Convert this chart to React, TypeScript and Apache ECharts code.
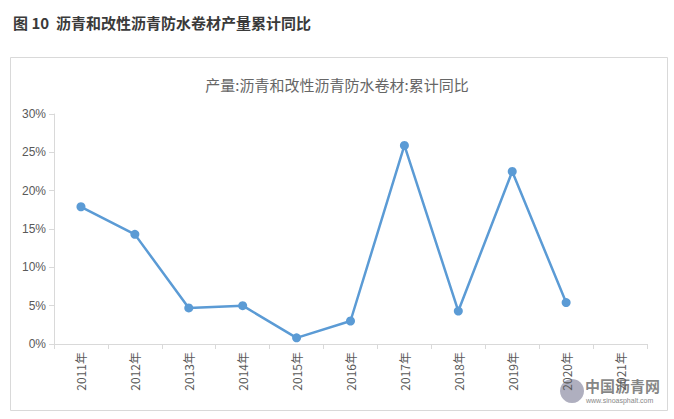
import React, { useEffect, useRef } from "react";
import * as echarts from "echarts";

const categories = ["2011年", "2012年", "2013年", "2014年", "2015年", "2016年", "2017年", "2018年", "2019年", "2020年", "2021年"];
const values: (number | null)[] = [17.9, 14.3, 4.7, 5.0, 0.8, 3.0, 25.9, 4.3, 22.5, 5.4, null];
const yTicks = [0, 5, 10, 15, 20, 25, 30];

export default function App() {
  const ref = useRef<HTMLDivElement>(null);
  useEffect(() => {
    const chart = echarts.init(ref.current!, null, { renderer: "svg" });
    chart.setOption({
      animation: false,
      backgroundColor: "#ffffff",
      title: [
        {
          text: "图 10  沥青和改性沥青防水卷材产量累计同比",
          left: 8,
          top: 10,
          textStyle: { fontSize: 15, fontWeight: "bold", color: "#3a3a3a", fontFamily: "Noto Sans CJK SC" },
        },
        {
          text: "产量:沥青和改性沥青防水卷材:累计同比",
          left: "center",
          top: 72,
          textStyle: { fontSize: 15, fontWeight: "normal", color: "#666666", fontFamily: "Noto Sans CJK SC" },
        },
      ],
      graphic: [
        {
          type: "rect",
          shape: { x: 10.5, y: 57.5, width: 657, height: 353 },
          style: { fill: "none", stroke: "#d9d9d9", lineWidth: 1 },
          z: -1,
        },
        {
          type: "circle",
          shape: { cx: 572, cy: 391, r: 12 },
          style: { fill: "#7a7a95", opacity: 0.6 },
        },
        {
          type: "text",
          x: 585,
          y: 378,
          style: { text: "中国沥青网", fontSize: 15, fontWeight: "bold", fill: "#707070", opacity: 0.85, fontFamily: "Noto Sans CJK SC" },
        },
        {
          type: "text",
          x: 586,
          y: 397,
          style: { text: "www.sinoasphalt.com", fontSize: 7, fill: "#888888", fontFamily: "Liberation Sans" },
        },
      ],
      grid: { left: 54, right: 27, top: 114, bottom: 75, containLabel: false },
      xAxis: {
        type: "category",
        data: categories,
        boundaryGap: true,
        axisLine: { lineStyle: { color: "#d9d9d9", width: 1 } },
        axisTick: { show: true, alignWithLabel: false, length: 5, lineStyle: { color: "#d9d9d9" } },
        axisLabel: {
          rotate: 90,
          interval: 0,
          color: "#595959",
          fontSize: 12,
          margin: 8,
          fontFamily: "Noto Sans CJK SC",
        },
      },
      yAxis: {
        type: "value",
        min: 0,
        max: 30,
        interval: 5,
        axisLine: { show: true, lineStyle: { color: "#d9d9d9", width: 1 } },
        axisTick: { show: true, length: 5, lineStyle: { color: "#d9d9d9" } },
        splitLine: { show: false },
        axisLabel: {
          color: "#595959",
          fontSize: 12,
          margin: 8,
          fontFamily: "Liberation Sans",
          formatter: (v: number) => (yTicks.includes(v) ? v + "%" : ""),
        },
      },
      series: [
        {
          type: "line",
          data: values,
          symbol: "circle",
          symbolSize: 9,
          lineStyle: { color: "#5b9bd5", width: 2.5 },
          itemStyle: { color: "#5b9bd5" },
        },
      ],
    });
    return () => chart.dispose();
  }, []);
  return <div ref={ref} style={{ position: "fixed", left: 0, top: 0, width: 674, height: 419 }} />;
}
